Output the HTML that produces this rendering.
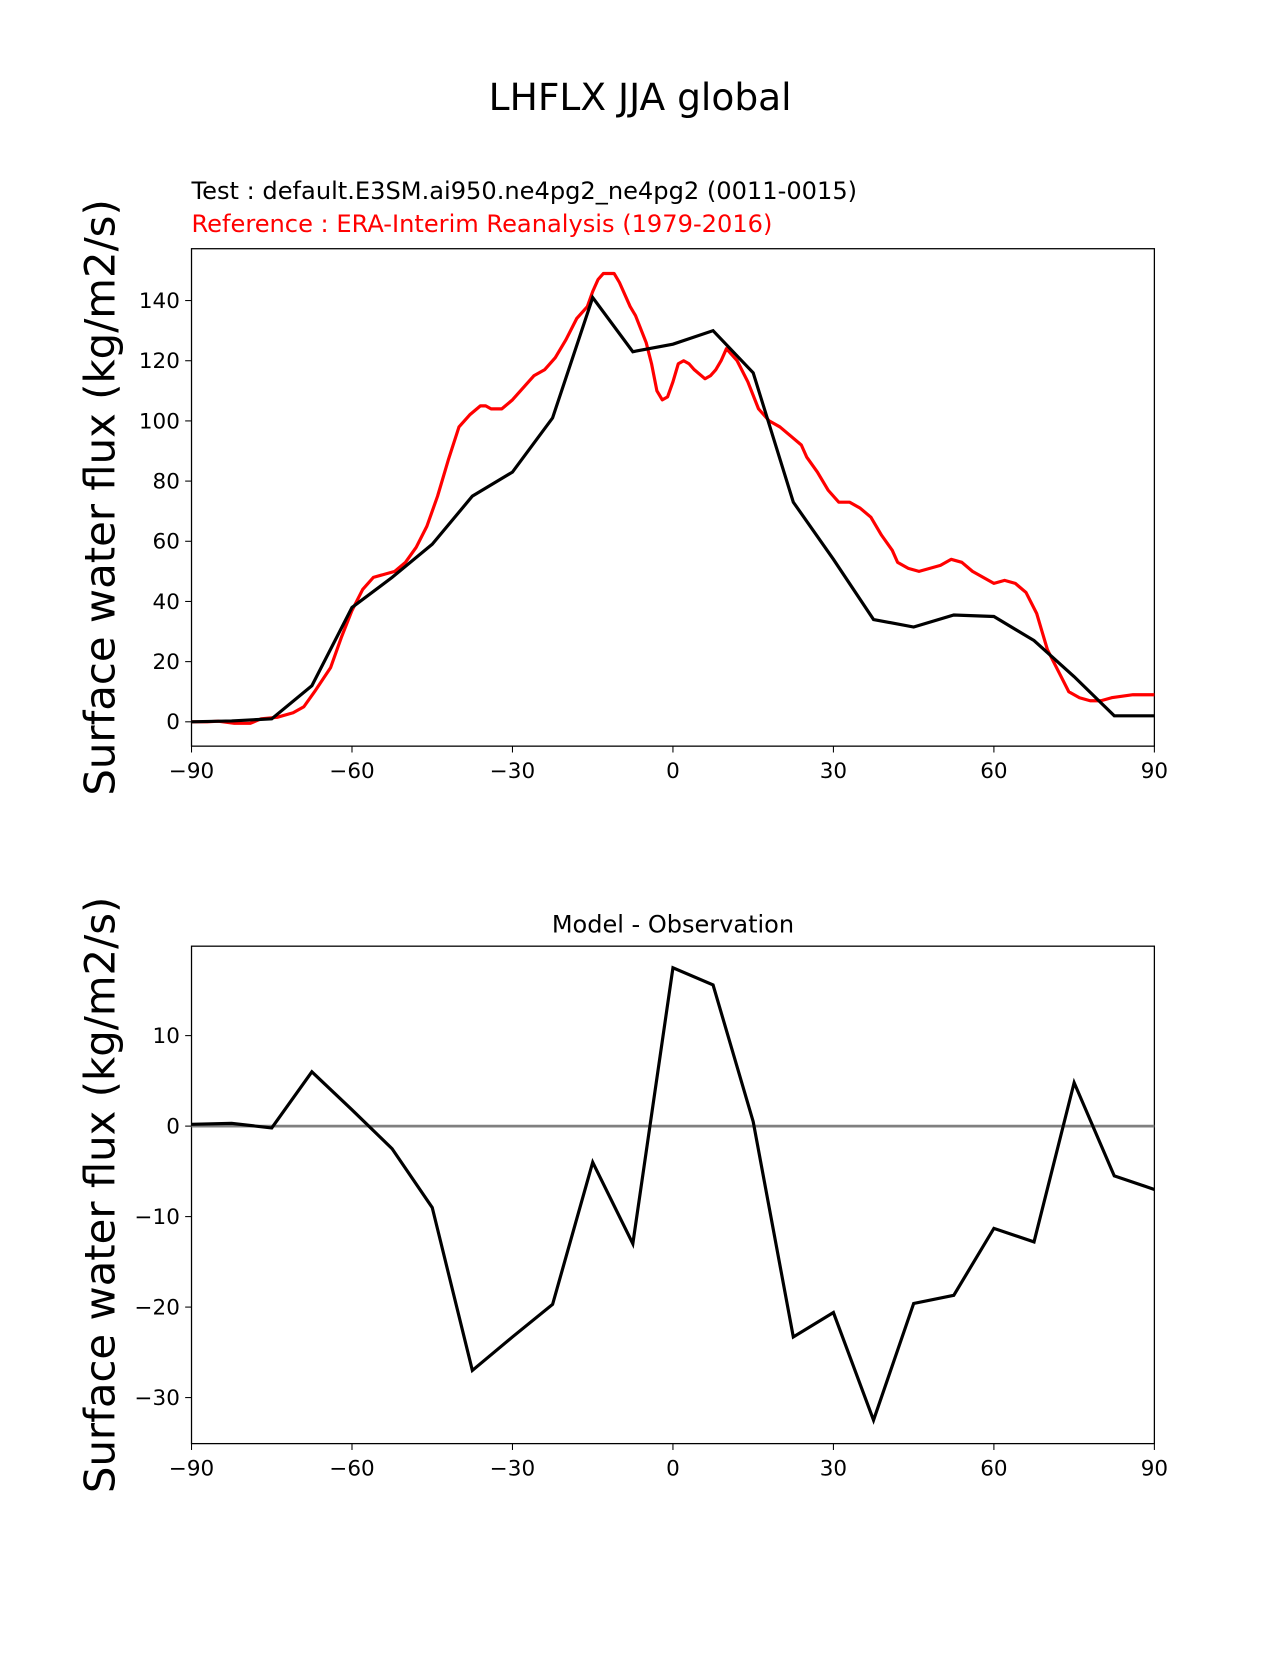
<!DOCTYPE html>
<html><head><meta charset="utf-8"><style>
body{margin:0;background:#fff;}
svg text{font-family:"DejaVu Sans","Liberation Sans",sans-serif;}
</style></head><body>
<svg id="fig" width="1275" height="1650" viewBox="0 0 1205 1559" preserveAspectRatio="none" xmlns="http://www.w3.org/2000/svg">
<rect width="1205" height="1559" fill="#fff"/>
<text x="605" y="104" font-size="35.5" text-anchor="middle">LHFLX JJA global</text>
<text x="181" y="188" font-size="22.8">Test : default.E3SM.ai950.ne4pg2_ne4pg2 (0011-0015)</text>
<text x="181" y="219" font-size="22.8" fill="#ff0000">Reference : ERA-Interim Reanalysis (1979-2016)</text>
<text x="636" y="881" font-size="22.7" text-anchor="middle">Model - Observation</text>
<g id="top"></g><g id="bot"></g>
</svg>
<script>
const modelLat=[-90,-82.5,-75,-67.5,-60,-52.5,-45,-37.5,-30,-22.5,-15,-7.5,0,7.5,15,22.5,30,37.5,45,52.5,60,67.5,75,82.5,90];
const modelVal=[0,0.3,1,12,38,48,59,75,83,101,141,123,125.5,130,116,73,54,34,31.5,35.5,35,27,15,2,2];
const refLat=[-90,-87,-85,-82,-79,-77,-74,-71,-69,-67,-64,-62,-60,-58,-56,-54,-52,-50,-48,-46,-44,-42,-40,-38,-36,-35,-34,-32,-30,-28,-26,-24,-22,-20,-18,-16,-15,-14,-13,-11,-10,-8,-7,-5,-4,-3,-2,-1,0,1,2,3,4,6,7,8,9,10,11,12,14,16,18,20,22,24,25,27,29,31,33,35,37,39,41,42,44,46,48,50,52,54,56,58,60,62,64,66,68,69,70,72,74,76,78,80,82,84,86,90];
const refVal=[0,0,0.2,-0.5,-0.5,1,1.5,3,5,10,18,28,37,44,48,49,50,53,58,65,75,87,98,102,105,105,104,104,107,111,115,117,121,127,134,138,143,147,149,149,146,138,135,126,119,110,107,108,113,119,120,119,117,114,115,117,120,124,122,120,113,104,100,98,95,92,88,83,77,73,73,71,68,62,57,53,51,50,51,52,54,53,50,48,46,47,46,43,36,30,24,17,10,8,7,7,8,8.5,9,9];
const diffVal=[0.2,0.3,-0.2,6,1.8,-2.5,-9,-27,-23.3,-19.7,-4,-13,17.5,15.6,0.5,-23.3,-20.6,-32.5,-19.6,-18.7,-11.3,-12.8,4.8,-5.5,-7];
const xTicks=[-90,-60,-30,0,30,60,90];
const topTicks=[0,20,40,60,80,100,120,140];
const botTicks=[-30,-20,-10,0,10];
const NS="http://www.w3.org/2000/svg";
function mk(p,t,a){const e=document.createElementNS(NS,t);for(const k in a)e.setAttribute(k,a[k]);p.appendChild(e);return e;}
const X=v=>181+(v+90)/180*910;
function panel(g,top,bot,y0,yk,ticks,name){
  const Y=v=>y0-v*yk;
  mk(g,'rect',{x:181,y:top,width:910,height:bot-top,fill:'none',stroke:'#000','stroke-width':1.2});
  xTicks.forEach(t=>{const l=mk(g,'line',{x1:X(t),x2:X(t),y1:bot,y2:bot+6,stroke:'#000'});
    
    const tx=mk(g,'text',{x:X(t),y:bot+30,'font-size':20.3,'text-anchor':'middle'});tx.textContent=String(t).replace('-','\u2212');
    });
  ticks.forEach(t=>{mk(g,'line',{x1:175,x2:181,y1:Y(t),y2:Y(t),stroke:'#000'});
    const tx=mk(g,'text',{x:170,y:Y(t)+7,'font-size':20.3,'text-anchor':'end'});tx.textContent=String(t).replace('-','\u2212');
    });
  const yl=mk(g,'text',{x:0,y:0,'font-size':39.5,'text-anchor':'middle',transform:`translate(108,${(top+bot)/2}) rotate(-90)`});
  yl.textContent='Surface water flux (kg/m2/s)';
  
  return Y;
}
const gt=document.getElementById('top'),gb=document.getElementById('bot');
const Yt=panel(gt,235,705,682,2.843,topTicks,'top');
let p=mk(gt,'path',{d:refLat.map((l,i)=>(i?'L':'M')+X(l)+','+Yt(refVal[i])).join(''),fill:'none',stroke:'#ff0000','stroke-width':3,'stroke-linejoin':'round'});

p=mk(gt,'path',{d:modelLat.map((l,i)=>(i?'L':'M')+X(l)+','+Yt(modelVal[i])).join(''),fill:'none',stroke:'#000','stroke-width':3});

const Yb=panel(gb,894,1364,1064,8.55,botTicks,'bottom');
p=mk(gb,'line',{x1:181,x2:1091,y1:Yb(0),y2:Yb(0),stroke:'#808080','stroke-width':2.6});

p=mk(gb,'path',{d:modelLat.map((l,i)=>(i?'L':'M')+X(l)+','+Yb(diffVal[i])).join(''),fill:'none',stroke:'#000','stroke-width':3});

</script>
</body></html>
